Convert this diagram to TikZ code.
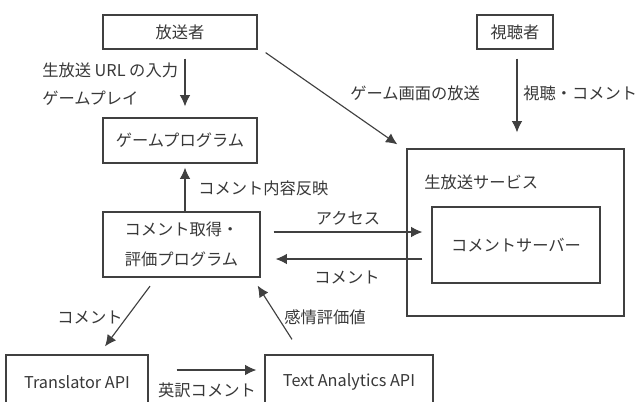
\documentclass[tikz,border=0pt]{standalone}
\usepackage{fontspec}
\setmainfont{Noto Sans CJK JP}
\usetikzlibrary{arrows.meta,calc}
\definecolor{ln}{HTML}{404040}
\definecolor{tx}{HTML}{383838}
\tikzset{
  box/.style={draw=ln, line width=0.95pt, rectangle, inner sep=0pt, text=tx, font=\fontsize{12.2pt}{14pt}\selectfont, align=center},
  lbl/.style={inner sep=0pt, text=tx, font=\fontsize{12.2pt}{14pt}\selectfont},
  arr/.style={draw=ln, line width=0.85pt, -{Latex[length=8.5pt,width=8pt]}}
}
\begin{document}
\begin{tikzpicture}[x=0.75pt,y=-0.75pt]
\useasboundingbox (0,0) rectangle (640,401);
\fill[white] (0,0) rectangle (640,401);
\clip (0,0) rectangle (640,401);
% boxes
\node[box, minimum width=115.5pt, minimum height=25.5pt] (bc) at (180,32) {放送者};
\node[box, minimum width=57pt, minimum height=25.5pt] (vw) at (515,32) {視聴者};
\node[box, minimum width=115.5pt, minimum height=33.75pt] (gp) at (180,140.5) {ゲームプログラム};
\node[box, minimum width=117.75pt, minimum height=48.75pt, font=\fontsize{12.2pt}{22.5pt}\selectfont] (ce) at (181.5,244.5) {コメント取得・\\評価プログラム};
\node[box, minimum width=162.75pt, minimum height=125.25pt] (sv) at (515.5,232.5) {};
\node[box, minimum width=126pt, minimum height=57pt] (cs) at (516,245) {コメントサーバー};
\node[box, minimum width=106.5pt, minimum height=40.5pt] (tr) at (77,382) {Translator API};
\node[box, minimum width=126pt, minimum height=40.5pt] (ta) at (349,382) {Text Analytics API};
% labels
\node[lbl, anchor=west] (l1) at (42,70) {生放送 URL の入力};
\node[lbl, anchor=west] (l2) at (42,98) {ゲームプレイ};
\node[lbl, anchor=west] (l3) at (198,188) {コメント内容反映};
\node[lbl, anchor=west] (l4) at (350,93) {ゲーム画面の放送};
\node[lbl, anchor=west] (l5) at (523,93) {視聴・コメント};
\node[lbl, anchor=west] (l6) at (424,182) {生放送サービス};
\node[lbl] (l7) at (348,218) {アクセス};
\node[lbl] (l8) at (347,277) {コメント};
\node[lbl] (l9) at (325,317) {感情評価値};
\node[lbl] (l10) at (90,317) {コメント};
\node[lbl] (l11) at (207,390) {英訳コメント};
% connectors
\draw[arr] ($(bc.south)+(5,9)$) -- ($(gp.north)+(5,-11)$);
\draw[arr] ($(ce.north)+(3.5,0)$) -- ($(gp.south)+(5,4)$);
\draw[arr] ($(bc.south east)+(8,3)$) -- ($(sv.north west)+(-9,-4)$);
\draw[arr] ($(vw.south)+(2,9)$) -- ($(sv.north)+(1.5,-16)$);
\draw[arr] ($(ce.east)+(13,-12.5)$) -- ($(cs.west)+(-9,-13)$);
\draw[arr] ($(cs.west)+(-9,14)$) -- ($(ce.east)+(15,14.5)$);
\draw[arr] ($(ce.south)+(-31.5,8.5)$) -- ($(tr.north)+(28,-8)$);
\draw[arr] ($(ta.north)+(-57,-15)$) -- ($(ce.south east)+(-3,8)$);
\draw[arr] ($(tr.east)+(28,-12)$) -- ($(ta.west)+(-8,-12)$);
\end{tikzpicture}
\end{document}
